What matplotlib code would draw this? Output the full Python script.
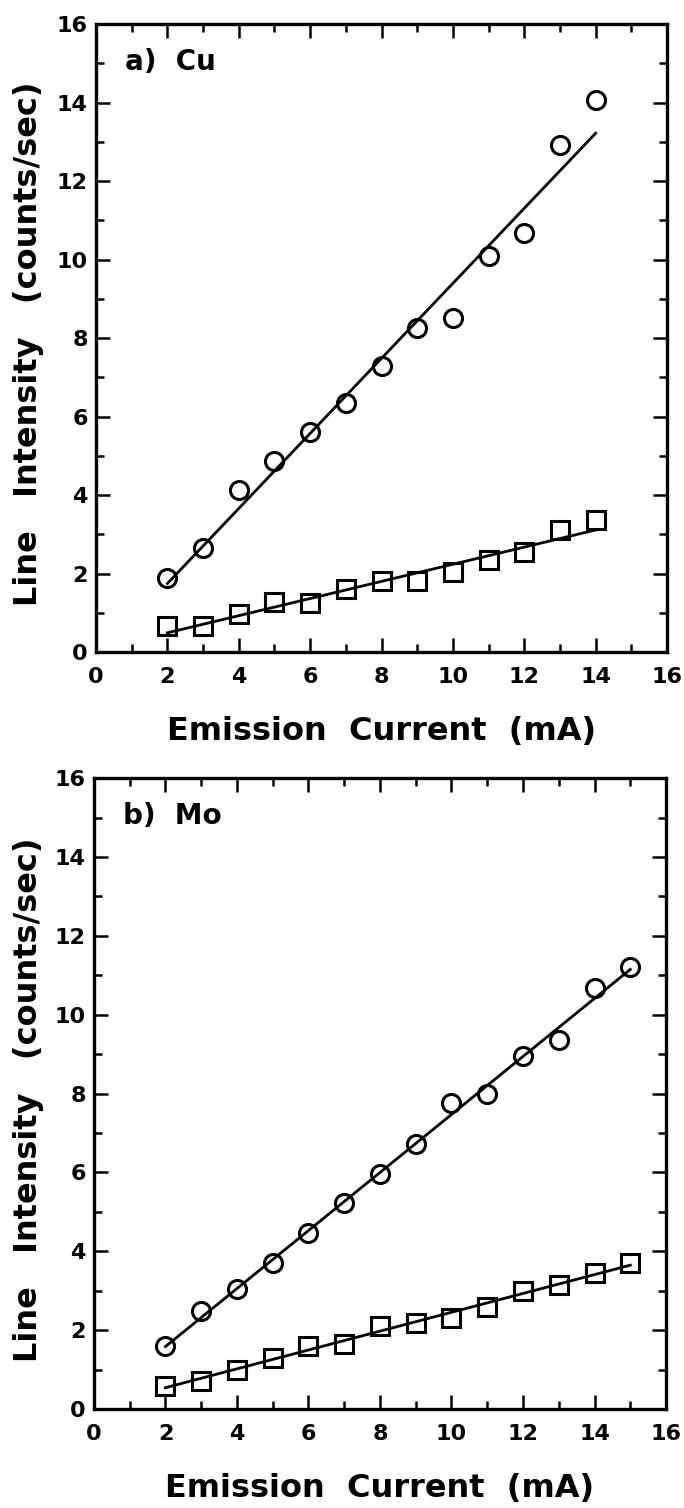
import numpy as np
import matplotlib
matplotlib.use("Agg")
import matplotlib.pyplot as plt
from matplotlib.ticker import MultipleLocator

# emission current (mA) and line intensities (counts/sec)
cu_current = [2, 3, 4, 5, 6, 7, 8, 9, 10, 11, 12, 13, 14]
cu_k = [1.89, 2.65, 4.12, 4.88, 5.60, 6.35, 7.28, 8.25, 8.50, 10.10, 10.69, 12.92, 14.06]
cu_l = [0.67, 0.66, 0.96, 1.27, 1.24, 1.61, 1.80, 1.80, 2.03, 2.35, 2.56, 3.10, 3.36]

mo_current = [2, 3, 4, 5, 6, 7, 8, 9, 10, 11, 12, 13, 14, 15]
mo_k = [1.60, 2.48, 3.04, 3.70, 4.47, 5.22, 5.96, 6.72, 7.77, 7.98, 8.95, 9.37, 10.67, 11.21]
mo_l = [0.59, 0.71, 1.00, 1.30, 1.61, 1.65, 2.10, 2.18, 2.31, 2.60, 3.00, 3.15, 3.44, 3.70]

panels = [
    # label, x, circles, squares, axes rect, ylabel x-offset
    ("a)  Cu", cu_current, cu_k, cu_l, [0.1404, 0.5676, 0.8348, 0.4164], -0.119),
    ("b)  Mo", mo_current, mo_k, mo_l, [0.1374, 0.0656, 0.8363, 0.4184], -0.115),
]

plt.rcParams["font.family"] = "DejaVu Sans"
plt.rcParams["font.weight"] = "bold"

fig = plt.figure(figsize=(6.84, 15.08), dpi=100)

for label, x, circ, sq, rect, ylab_x in panels:
    ax = fig.add_axes(rect)
    x = np.asarray(x, dtype=float)
    for y, marker in ((circ, "o"), (sq, "s")):
        y = np.asarray(y, dtype=float)
        # straight-line least-squares fit across the measured range
        k, b = np.polyfit(x, y, 1)
        xs = np.array([x[0], x[-1]])
        ax.plot(xs, k * xs + b, color="black", lw=2.0, zorder=2)
        ax.plot(x, y, linestyle="none", marker=marker, ms=13, mfc="none",
                mec="black", mew=2.2, zorder=3)

    ax.set_xlim(0, 16)
    ax.set_ylim(0, 16)
    ax.xaxis.set_major_locator(MultipleLocator(2))
    ax.xaxis.set_minor_locator(MultipleLocator(1))
    ax.yaxis.set_major_locator(MultipleLocator(2))
    ax.yaxis.set_minor_locator(MultipleLocator(1))
    ax.tick_params(which="both", direction="in", top=True, right=True,
                   width=1.8, colors="black")
    ax.tick_params(which="major", length=10, labelsize=16)
    ax.tick_params(which="minor", length=6)
    ax.tick_params(axis="x", which="major", pad=11)
    ax.tick_params(axis="y", which="major", pad=6)
    for t in ax.get_xticklabels() + ax.get_yticklabels():
        t.set_fontweight("bold")
    for s in ax.spines.values():
        s.set_linewidth(2.4)

    ax.text(0.8, 15.03, label, fontsize=20, fontweight="bold",
            ha="left", va="center")
    ax.set_xlabel("Emission  Current  (mA)", fontsize=23, fontweight="bold",
                  va="center")
    ax.xaxis.set_label_coords(0.5, -0.126)
    ax.set_ylabel("Line   Intensity   (counts/sec)", fontsize=23,
                  fontweight="bold", va="center")
    ax.yaxis.set_label_coords(ylab_x, 0.491)

fig.savefig("out.png", dpi=100, facecolor="white")
